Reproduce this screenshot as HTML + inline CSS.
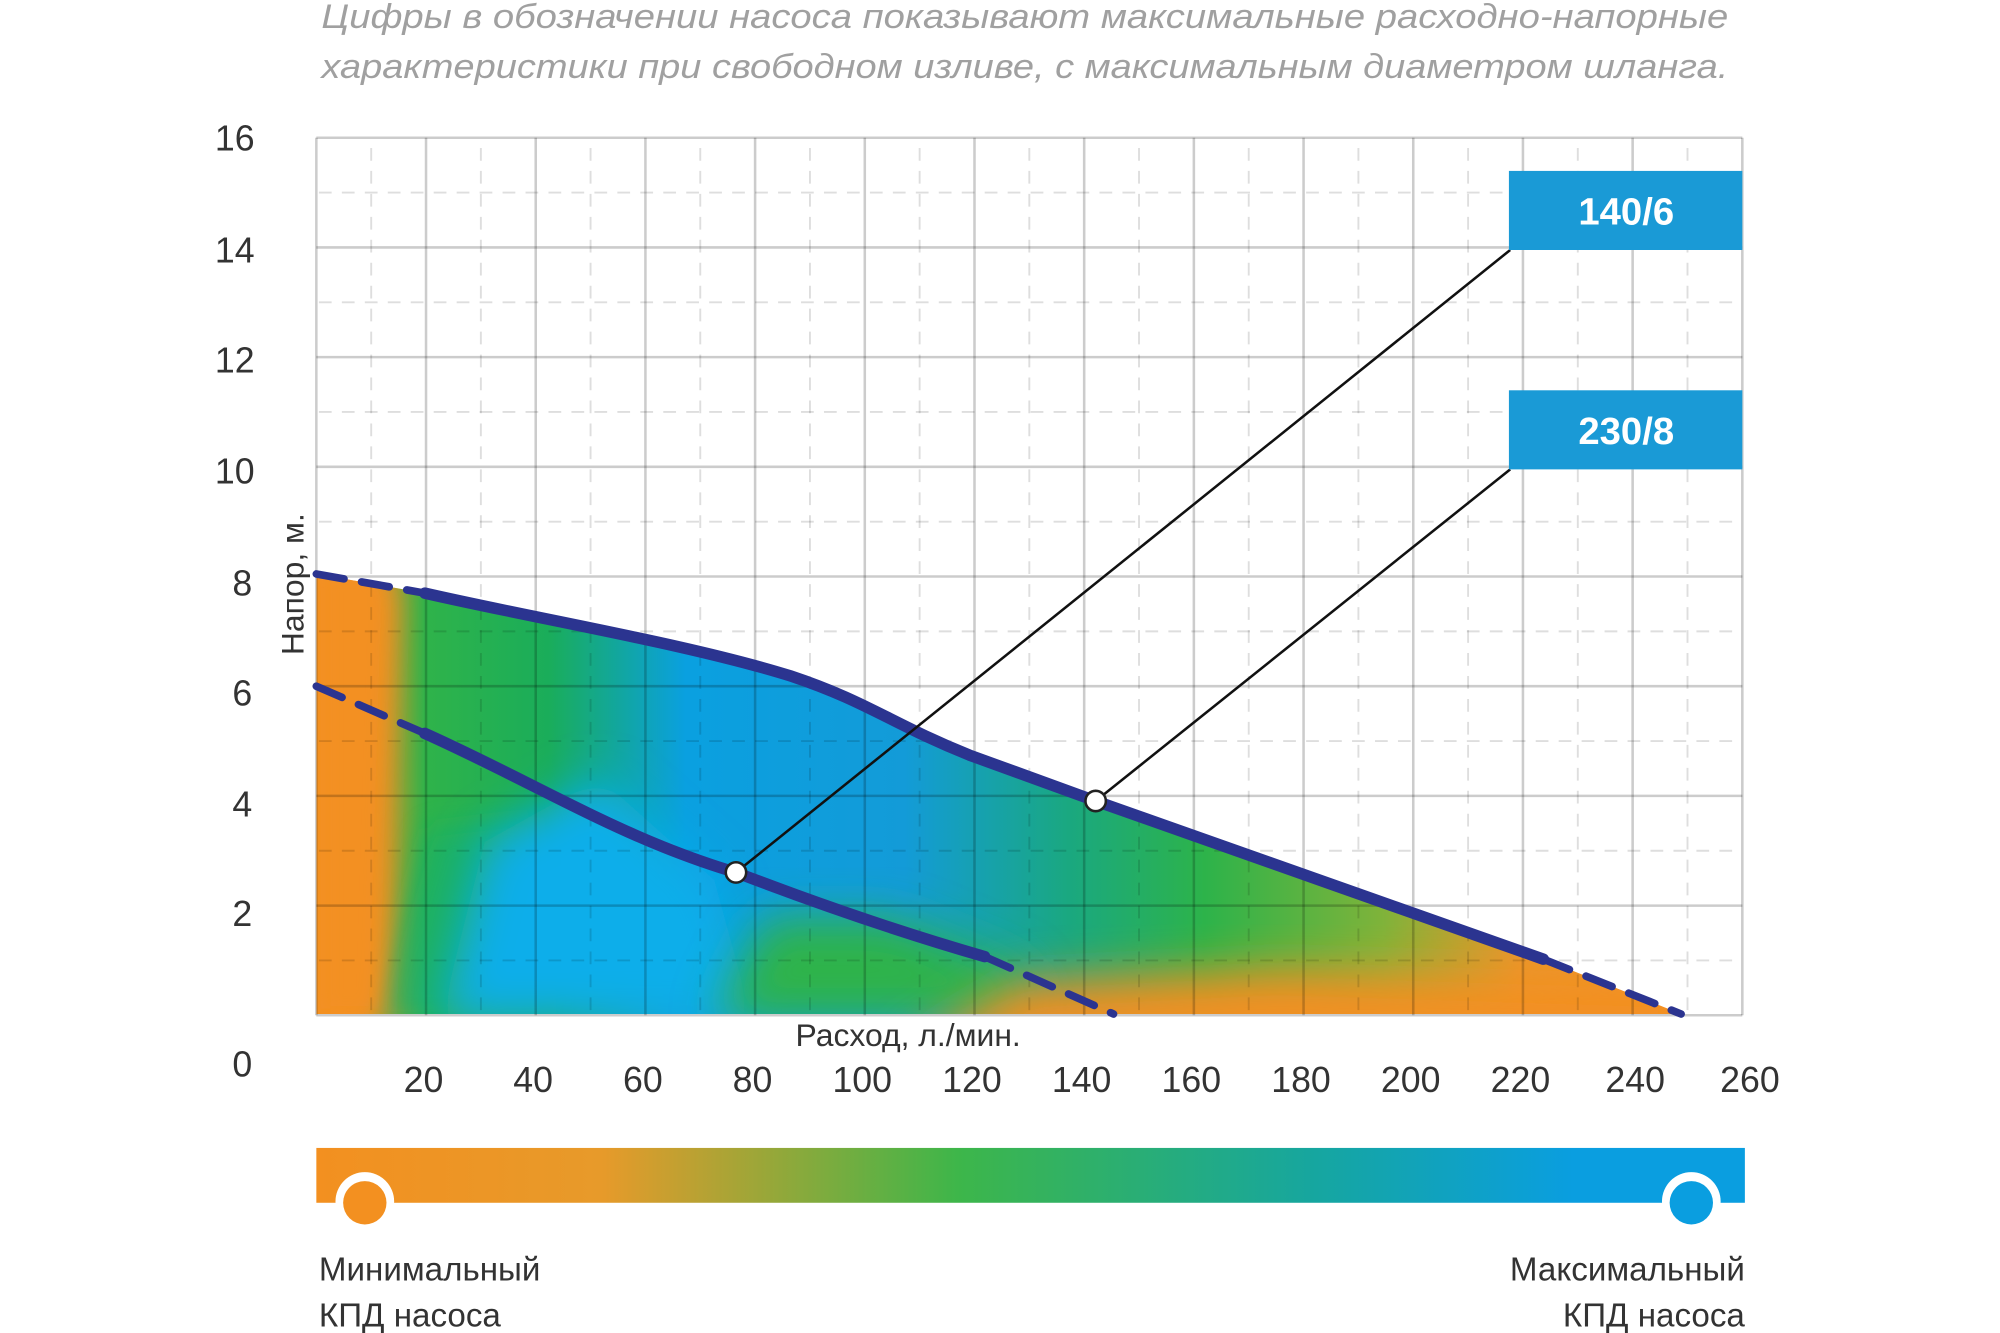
<!DOCTYPE html>
<html><head><meta charset="utf-8"><style>
html,body{margin:0;padding:0;background:#fff;}
svg{display:block;}
text{font-family:"Liberation Sans",sans-serif;}
</style></head><body>
<svg width="2000" height="1333" viewBox="0 0 1568 1045.1" xmlns="http://www.w3.org/2000/svg">
<defs>
<linearGradient id="base" x1="248" y1="0" x2="1320" y2="0" gradientUnits="userSpaceOnUse">
<stop offset="0" stop-color="#f39020"/>
<stop offset="0.035" stop-color="#f39020"/>
<stop offset="0.08" stop-color="#2fb34a"/>
<stop offset="0.17" stop-color="#1aad5a"/>
<stop offset="0.27" stop-color="#0aa0e0"/>
<stop offset="0.43" stop-color="#139bd8"/>
<stop offset="0.55" stop-color="#1aa880"/>
<stop offset="0.65" stop-color="#2db34a"/>
<stop offset="0.78" stop-color="#7fb33a"/>
<stop offset="0.88" stop-color="#e8962a"/>
<stop offset="1" stop-color="#f39020"/>
</linearGradient>
<linearGradient id="leg" x1="0" y1="0" x2="1" y2="0">
<stop offset="0" stop-color="#f39020"/>
<stop offset="0.2" stop-color="#e79a2a"/>
<stop offset="0.45" stop-color="#3db64a"/>
<stop offset="0.7" stop-color="#16a6a0"/>
<stop offset="0.88" stop-color="#0a9ee0"/>
<stop offset="1" stop-color="#0a9ee0"/>
</linearGradient>
<filter id="bl" x="-50%" y="-50%" width="200%" height="200%"><feGaussianBlur stdDeviation="18"/></filter>
<filter id="bl2" x="-50%" y="-50%" width="200%" height="200%"><feGaussianBlur stdDeviation="10"/></filter>
<clipPath id="area"><path d="M248,450 L333,465 C420,485 540,505 620,530 C680,550 700,568 760,592 L859,628 L1210,752 L1318,795 L248,795 Z"/></clipPath>
</defs>
<g font-style="italic" fill="#a0a0a0" font-size="27">
<text x="252" y="22" textLength="1103" lengthAdjust="spacingAndGlyphs">Цифры в обозначении насоса показывают максимальные расходно-напорные</text>
<text x="252" y="61" textLength="1103" lengthAdjust="spacingAndGlyphs">характеристики при свободном изливе, с максимальным диаметром шланга.</text>
</g>
<g clip-path="url(#area)">
<rect x="248" y="440" width="1080" height="360" fill="url(#base)"/>
<path d="M290,800 L335,650 L420,640 L430,800 Z" fill="#16b06a" filter="url(#bl2)" opacity="0.6"/>
<path d="M345,800 L380,660 L470,610 L560,690 L590,800 Z" fill="#0aaeea" filter="url(#bl)"/>
<path d="M560,800 L600,720 L700,720 L800,760 L820,800 Z" fill="#2db34a" filter="url(#bl)"/>
<path d="M700,830 L800,770 L1000,760 L1320,770 L1320,830 Z" fill="#f39020" filter="url(#bl)"/>
<path d="M248,440 L300,440 L310,470 L300,800 L248,800 Z" fill="#f39020" filter="url(#bl2)"/>
</g>
<g stroke="rgba(0,0,0,0.2)" stroke-width="2" fill="none">
<path d="M248,108V796M334,108V796M420,108V796M506,108V796M592,108V796M678,108V796M764,108V796M850,108V796M936,108V796M1022,108V796M1108,108V796M1194,108V796M1280,108V796M1366,108V796"/>
<path d="M248,108H1366M248,194H1366M248,280H1366M248,366H1366M248,452H1366M248,538H1366M248,624H1366M248,710H1366M248,796H1366"/>
</g>
<g stroke="rgba(0,0,0,0.13)" stroke-width="1.5" fill="none" stroke-dasharray="10,8">
<path d="M291,116V796M377,116V796M463,116V796M549,116V796M635,116V796M721,116V796M807,116V796M893,116V796M979,116V796M1065,116V796M1151,116V796M1237,116V796M1323,116V796"/>
<path d="M250,151H1366M250,237H1366M250,323H1366M250,409H1366M250,495H1366M250,581H1366M250,667H1366M250,753H1366"/>
</g>
<g stroke="#2b3490" fill="none" stroke-linecap="round">
<path d="M248,450 L333,465" stroke-width="6" stroke-dasharray="22,14"/>
<path d="M333,465 C420,485 540,505 620,530 C680,550 700,568 760,592 L859,628 L1210,752" stroke-width="9"/>
<path d="M1210,752 L1318,795" stroke-width="6" stroke-dasharray="22,14"/>
<path d="M248,538 L333,575" stroke-width="6" stroke-dasharray="22,14"/>
<path d="M333,575 C400,605 460,640 520,664 C545,674 560,679 577,684 C650,712 720,735 772,750" stroke-width="9"/>
<path d="M772,750 L873,795" stroke-width="6" stroke-dasharray="22,14"/>
</g>
<g stroke="#111" stroke-width="2">
<line x1="1184" y1="196" x2="577" y2="684"/>
<line x1="1184" y1="368" x2="859" y2="628"/>
</g>
<circle cx="577" cy="684" r="8" fill="#fff" stroke="#222" stroke-width="2"/>
<circle cx="859" cy="628" r="8" fill="#fff" stroke="#222" stroke-width="2"/>
<rect x="1183" y="134" width="183" height="62" fill="#1a9ad6"/>
<rect x="1183" y="306" width="183" height="62" fill="#1a9ad6"/>
<g fill="#fff" font-size="30" font-weight="bold" text-anchor="middle">
<text x="1275" y="176">140/6</text>
<text x="1275" y="348">230/8</text>
</g>
<g fill="#333" font-size="28" text-anchor="middle">
<text x="184" y="118">16</text><text x="184" y="206">14</text><text x="184" y="292">12</text>
<text x="184" y="379">10</text><text x="190" y="467">8</text><text x="190" y="553">6</text>
<text x="190" y="640">4</text><text x="190" y="726">2</text><text x="190" y="844">0</text>
<text x="332" y="856">20</text><text x="418" y="856">40</text><text x="504" y="856">60</text>
<text x="590" y="856">80</text><text x="676" y="856">100</text><text x="762" y="856">120</text>
<text x="848" y="856">140</text><text x="934" y="856">160</text><text x="1020" y="856">180</text>
<text x="1106" y="856">200</text><text x="1192" y="856">220</text><text x="1282" y="856">240</text>
<text x="1372" y="856">260</text>
</g>
<text x="712" y="820" fill="#333" font-size="25" text-anchor="middle">Расход, л./мин.</text>
<text transform="translate(238,458) rotate(-90)" fill="#333" font-size="25" text-anchor="middle">Напор, м.</text>
<rect x="248" y="900" width="1120" height="43" fill="url(#leg)"/>
<circle cx="286" cy="942" r="23" fill="#fff"/>
<circle cx="286" cy="943" r="17" fill="#f39020"/>
<circle cx="1326" cy="942" r="23" fill="#fff"/>
<circle cx="1326" cy="943" r="17" fill="#0a9ee0"/>
<g fill="#333" font-size="26">
<text x="250" y="1004">Минимальный</text>
<text x="250" y="1040">КПД насоса</text>
<text x="1368" y="1004" text-anchor="end">Максимальный</text>
<text x="1368" y="1040" text-anchor="end">КПД насоса</text>
</g>
</svg>
</body></html>
